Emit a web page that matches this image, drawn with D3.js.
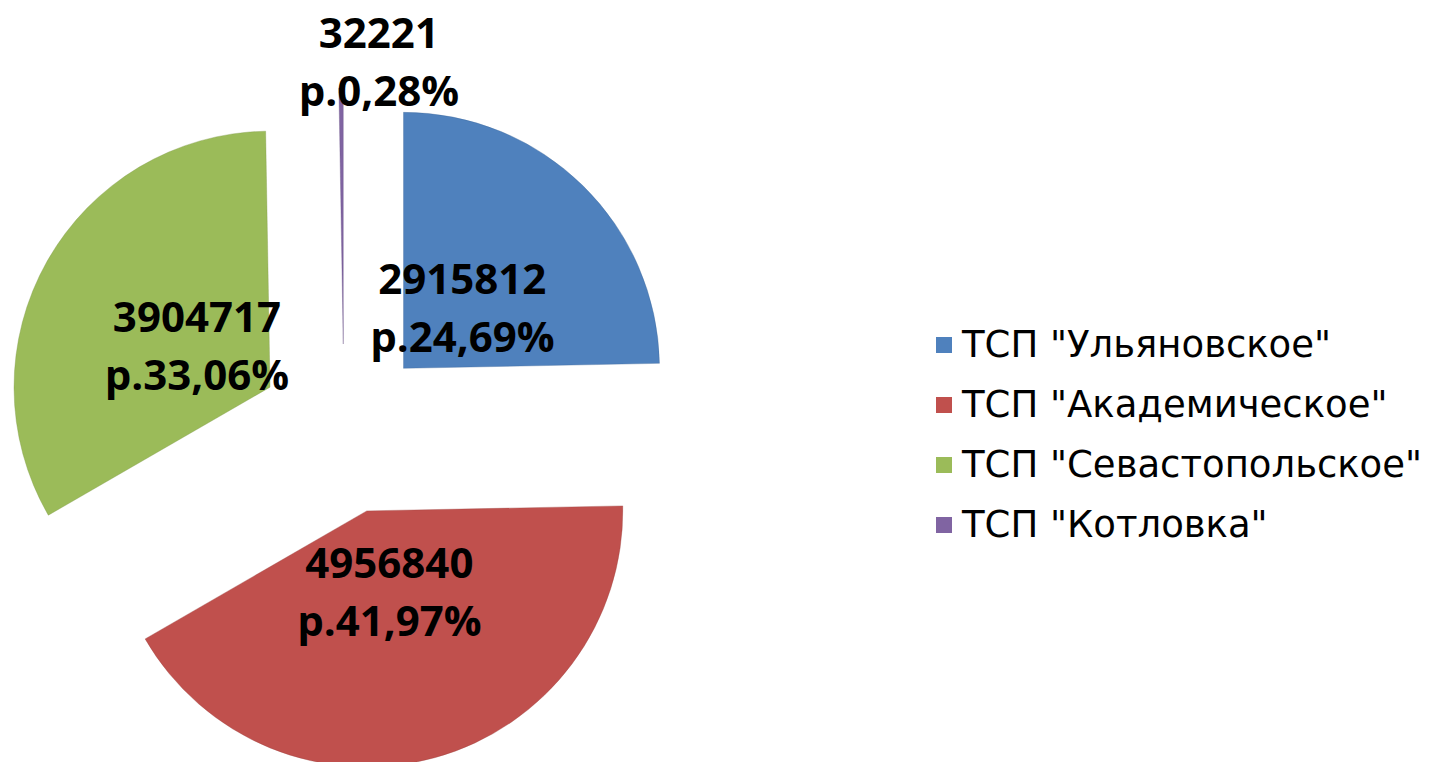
<!DOCTYPE html>
<html>
<head>
<meta charset="utf-8">
<script src="https://cdnjs.cloudflare.com/ajax/libs/d3/7.8.5/d3.min.js"></script>
<style>
  body { margin: 0; background: #fff; }
  svg { display: block; }
</style>
</head>
<body>
<div id="chart"></div>
<script>
const categories = ['ТСП "Ульяновское"', 'ТСП "Академическое"', 'ТСП "Севастопольское"', 'ТСП "Котловка"'];
const values = [2915812, 4956840, 3904717, 32221];
const percents = ["24,69%", "41,97%", "33,06%", "0,28%"];
const colors = ["#4f81bd", "#c0504d", "#9bbb59", "#8064a2"];

const width = 1437, height = 762;
const cx = 344, cy = 429, radius = 256, explode = 85;

const svg = d3.select("#chart")
    .append("svg")
    .attr("width", width)
    .attr("height", height);

const pie = d3.pie().sort(null).value(d => d);
const arcs = pie(values);

const arc = d3.arc().innerRadius(0).outerRadius(radius);
const labelArc = d3.arc().innerRadius(84).outerRadius(84);
const outerArc = d3.arc().innerRadius(282).outerRadius(282);

// offset of each slice along its mid angle
const shift = d => {
    const a = (d.startAngle + d.endAngle) / 2;
    return [cx + explode * Math.sin(a), cy - explode * Math.cos(a)];
};

const g = svg.selectAll(".slice")
    .data(arcs)
    .enter()
    .append("g")
    .attr("class", "slice")
    .attr("transform", d => `translate(${shift(d)[0]},${shift(d)[1]})`);

g.append("path")
    .attr("d", arc)
    .attr("fill", (d, i) => colors[i])
    .attr("stroke", (d, i) => d3.color(colors[i]).darker(0.6))
    .attr("stroke-opacity", 0.35)
    .attr("stroke-width", 1);

// data labels
g.each(function(d, i) {
    const small = (d.endAngle - d.startAngle) < 0.05;
    let [lx, ly] = small ? outerArc.centroid(d) : labelArc.centroid(d);
    if (small) lx += 38;
    const t = d3.select(this).append("text")
        .attr("text-anchor", "middle")
        .style("font-family", "'Open Sans', sans-serif")
        .style("font-weight", "bold")
        .style("font-size", "42px")
        .attr("fill", "#000");
    t.append("tspan").attr("x", lx).attr("y", ly - 14).text(values[i]);
    t.append("tspan").attr("x", lx).attr("y", ly + 44).text("р." + percents[i]);
});

// legend
const legend = svg.append("g").attr("transform", "translate(936,357)");
const rows = legend.selectAll("g")
    .data(categories)
    .enter()
    .append("g")
    .attr("transform", (d, i) => `translate(0,${i * 60})`);

rows.append("rect")
    .attr("x", 0)
    .attr("y", -20)
    .attr("width", 16)
    .attr("height", 16)
    .attr("fill", (d, i) => colors[i]);

rows.append("text")
    .attr("x", 26)
    .attr("y", 0)
    .style("font-family", "'DejaVu Sans', sans-serif")
    .style("font-size", "37px")
    .attr("fill", "#000")
    .text(d => d);
</script>
</body>
</html>
